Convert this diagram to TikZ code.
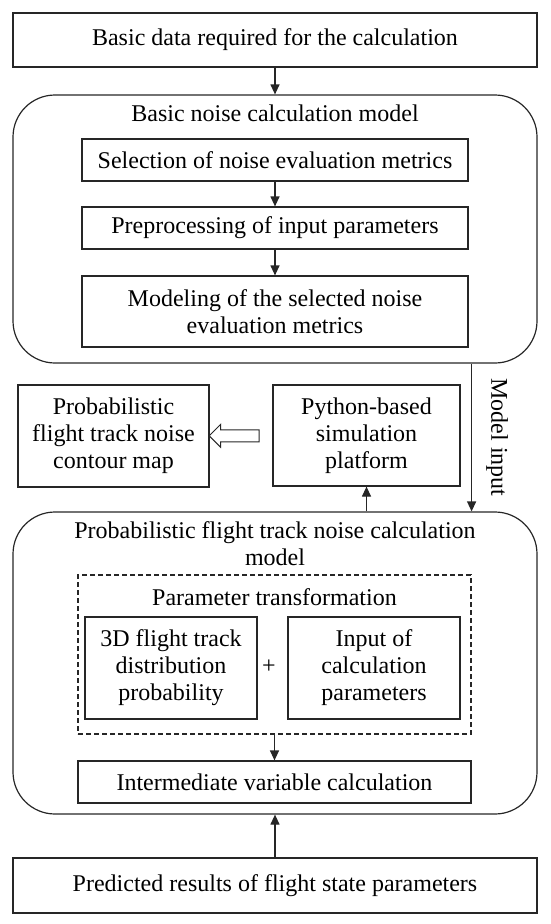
\documentclass[tikz,border=0pt]{standalone}
\usepackage{fontspec}
\setmainfont{Liberation Serif}
\usetikzlibrary{arrows.meta, positioning, shapes.arrows, calc}
\colorlet{linecol}{black!85}

\begin{document}
\begin{tikzpicture}[x=1pt, y=-1pt, line width=1.2pt,
    font=\fontsize{24}{27}\selectfont,
    box/.style={draw=linecol, minimum width=386pt, minimum height=42pt,
                align=center, inner sep=0pt},
    model/.style={draw=linecol, rounded corners=42pt, minimum width=524pt},
    arr/.style={draw=linecol, -{Triangle[length=10pt, width=9pt]}}]
  \useasboundingbox (0,0) rectangle (550,924);

  % top input and basic model
  \node[box, minimum width=524pt, minimum height=54pt] (data) at (275,40)
    {Basic data required for the calculation};
  \node[model, minimum height=268pt] (basic) at (275,229) {};
  \node (basictitle) at (275,113) {Basic noise calculation model};
  \node[box] (sel) at (275,160) {Selection of noise evaluation metrics};
  \node[box] (pre) at (275,228) {Preprocessing of input parameters};
  \node[box, minimum height=71pt] (modl) at (275,311.5)
    {Modeling of the selected noise\\evaluation metrics};
  \draw[arr] (data.south) -- (basic.north);
  \draw[arr] (sel) -- (pre);
  \draw[arr] (pre) -- (modl);

  % platform and output map
  \node[box, minimum width=191pt, minimum height=102pt] (map) at (113.5,436)
    {Probabilistic\\flight track noise\\contour map};
  \node[box, minimum width=187pt, minimum height=101pt] (python) at (366.5,435.5)
    {Python-based\\simulation\\platform};
  \node[single arrow, draw=linecol, line width=1pt, shape border rotate=180,
        minimum height=50pt, minimum width=22pt, single arrow head extend=5.5pt,
        inner sep=5.5pt] (hollow) at ($(map.east)!0.44!(python.west)$) {};

  % probabilistic model
  \node[model, minimum height=302pt] (lower) at (275,663) {};
  \node[align=center, inner sep=0pt] (lowertitle) at (275,544)
    {Probabilistic flight track noise calculation\\model};
  \node[draw=linecol, dash pattern=on 5pt off 3pt, minimum width=393pt,
        minimum height=159pt] (trans) at (274.5,654.5) {};
  \node (transtitle) at (274.5,597) {Parameter transformation};
  \node[box, minimum width=172pt, minimum height=102pt] (dist) at (171,668)
    {3D flight track\\distribution\\probability};
  \node[box, minimum width=172pt, minimum height=102pt] (inp) at (374,668)
    {Input of\\calculation\\parameters};
  \node (plus) at (269,667) {+};
  \node[box, minimum width=393pt] (inter) at (274.5,782)
    {Intermediate variable calculation};
  \draw[arr] (trans.south) -- (inter.north);

  \node[box, minimum width=524pt, minimum height=55pt] (pred) at (275,885.5)
    {Predicted results of flight state parameters};
  \draw[arr] (pred.north) -- (lower.south);
  \draw[arr] (lower.north -| python.south) -- (python.south);
  \draw[arr] (basic.south -| trans.east) -- (lower.north -| trans.east)
    node[midway, rotate=-90, anchor=south, inner sep=14pt] {Model input};
\end{tikzpicture}
\end{document}
